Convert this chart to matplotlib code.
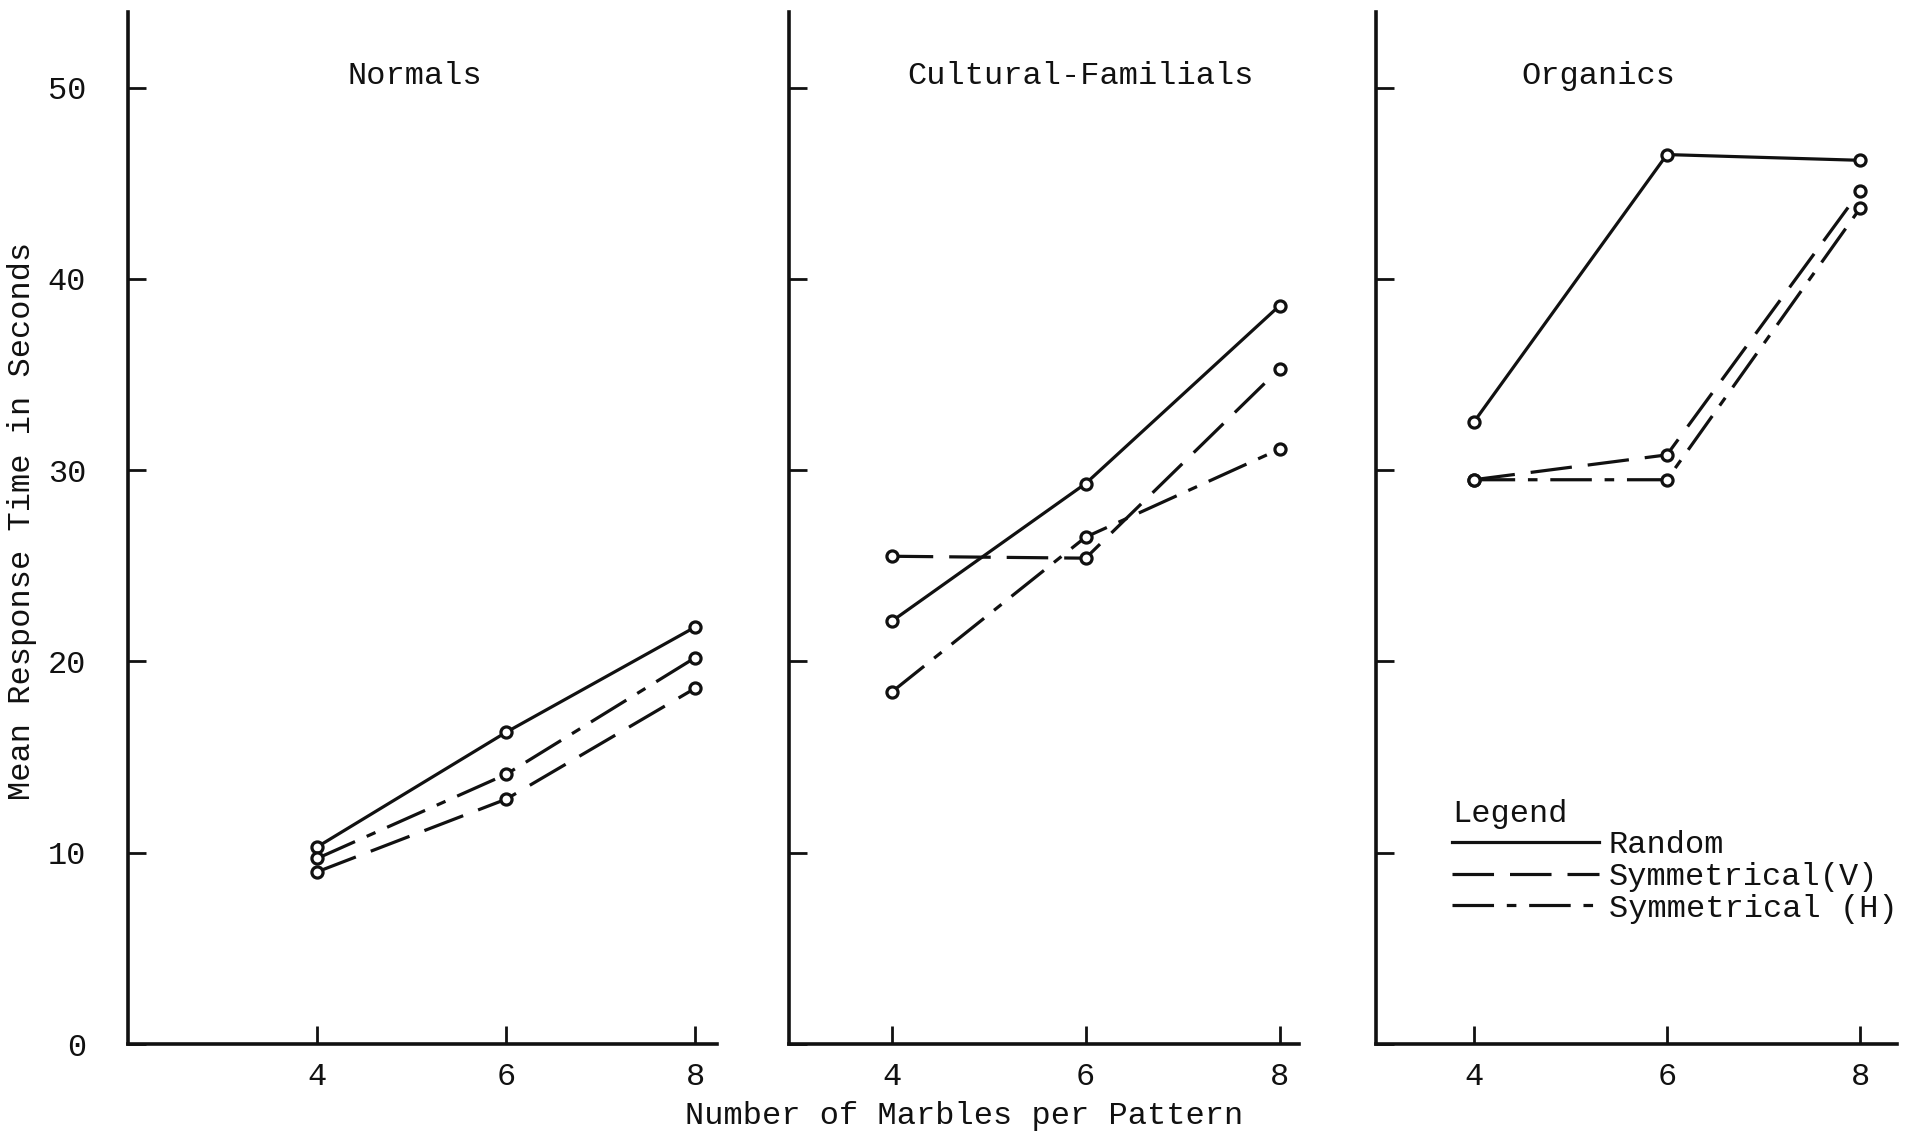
import matplotlib
matplotlib.use("Agg")
import matplotlib.pyplot as plt
from matplotlib.lines import Line2D

# ---- data ----
marbles = [4, 6, 8]
x_ticks = [4, 6, 8]
y_ticks = [0, 10, 20, 30, 40, 50]
group_names = ["Normals", "Cultural-Familials", "Organics"]
series_labels = ["Random", "Symmetrical(V)", "Symmetrical (H)"]

normals_random = [10.3, 16.3, 21.8]
normals_sym_v = [9.0, 12.8, 18.6]
normals_sym_h = [9.7, 14.1, 20.2]

cultural_random = [22.1, 29.3, 38.6]
cultural_sym_v = [25.5, 25.4, 35.3]
cultural_sym_h = [18.4, 26.5, 31.1]

organics_random = [32.5, 46.5, 46.2]
organics_sym_v = [29.5, 30.8, 44.6]
organics_sym_h = [29.5, 29.5, 43.7]

# ---- style ----
FONT = ["Liberation Mono", "DejaVu Sans Mono"]
plt.rcParams["font.family"] = FONT
FS = 23
INK = "#111111"
LW = 2.3
styles = {
    "Random": "-",
    "Symmetrical(V)": (0, (13, 5)),
    "Symmetrical (H)": (0, (13, 4, 3, 4)),
}

fig = plt.figure(figsize=(19.13, 11.39), dpi=100)
bottom, height = 0.0834, 0.906
panels = [
    dict(left=0.0669, width=0.3079, xlim=(2.0, 8.23), title_x=0.487,
         data=[normals_random, normals_sym_v, normals_sym_h]),
    dict(left=0.4124, width=0.2666, xlim=(2.94, 8.2), title_x=0.571,
         data=[cultural_random, cultural_sym_v, cultural_sym_h]),
    dict(left=0.7193, width=0.2723, xlim=(2.99, 8.38), title_x=0.426,
         data=[organics_random, organics_sym_v, organics_sym_h]),
]

axes = []
for i, p in enumerate(panels):
    ax = fig.add_axes([p["left"], bottom, p["width"], height])
    axes.append(ax)
    for label, vals in zip(series_labels, p["data"]):
        ax.plot(marbles, vals, color=INK, lw=LW, ls=styles[label],
                marker="o", ms=8, mfc="white", mec=INK, mew=2.3, zorder=3)
    ax.set_xlim(*p["xlim"])
    ax.set_ylim(0, 53.95)
    ax.set_xticks(x_ticks)
    ax.set_yticks(y_ticks)
    for s in ["top", "right"]:
        ax.spines[s].set_visible(False)
    for s in ["left", "bottom"]:
        ax.spines[s].set_linewidth(2.6)
        ax.spines[s].set_color(INK)
    ax.tick_params(axis="both", direction="in", length=13, width=2.0,
                   colors=INK, labelsize=FS)
    ax.tick_params(axis="x", pad=13)
    ax.tick_params(axis="y", pad=30)
    if i > 0:
        ax.tick_params(axis="y", labelleft=False)
    ax.text(p["title_x"], 0.938, group_names[i], transform=ax.transAxes,
            ha="center", va="center", fontsize=FS, color=INK)

# legend in the Organics panel
handles = [Line2D([], [], color=INK, lw=LW, ls=styles[l]) for l in series_labels]
leg = axes[2].legend(handles, series_labels, title="Legend", loc="upper left",
                     bbox_to_anchor=(0.122, 0.25), frameon=False, fontsize=FS,
                     title_fontsize=FS, handlelength=4.6, handletextpad=0.3,
                     labelspacing=0.05, alignment="left", borderaxespad=0)
for t in leg.get_texts():
    t.set_color(INK)
leg.get_title().set_color(INK)

fig.text(22 / 1913, 0.5426, "Mean Response Time in Seconds", rotation=90,
         ha="center", va="center", fontsize=FS, color=INK)
fig.text(0.504, 0.02, "Number of Marbles per Pattern", ha="center",
         va="center", fontsize=FS, color=INK)

fig.savefig("out.png", dpi=100, facecolor="white")
